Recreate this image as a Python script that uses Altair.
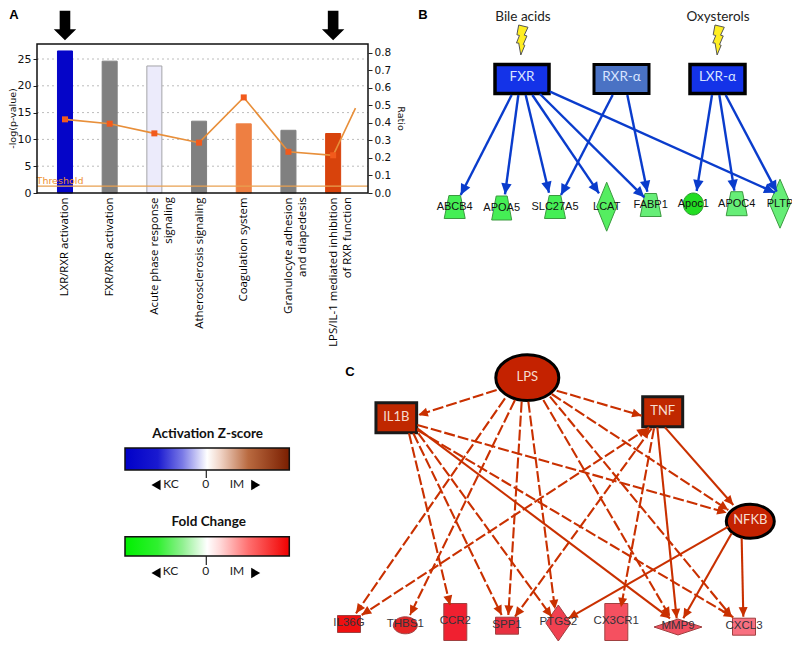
import math
import json
import altair as alt
import pandas as pd

# ---------- Panel A values ----------
pathways_line1 = ["LXR/RXR activation", "FXR/RXR activation", "Acute phase response",
                  "Atherosclerosis signaling", "Coagulation system",
                  "Granulocyte adhesion", "LPS/IL-1 mediated inhibition"]
pathways_line2 = ["", "", "signaling", "", "", "and diapedesis", "of RXR function"]
neg_log_p = [26.5, 24.6, 23.7, 13.4, 12.9, 11.7, 11.1]
ratio = [0.42, 0.395, 0.34, 0.287, 0.545, 0.235, 0.215]
ratio_tail = 0.484
threshold = 1.3
bar_fill = ["#0505c8", "#808080", "#ecebfb", "#808080", "#ee7f42", "#808080", "#d8430c"]
bar_stroke = ["#0505c8", "#808080", "#a5a5a8", "#808080", "#ee7f42", "#808080", "#d8430c"]
arrow_index = [0, 6]

# ---------- Network layout (reference layout units) ----------
# name, x, y, w, h, kind, fill, stroke, stroke width
net_b = [
    ("FXR", 522, 79, 54, 29, "rect", "#1433e8", "#000000", 3.5),
    ("RXR-α", 621.5, 79, 55, 29, "rect", "#4a72c4", "#000000", 3),
    ("LXR-α", 717.5, 79, 55, 29, "rect", "#1433e8", "#000000", 3.5),
    ("ABCB4", 454.7, 207, 21, 23, "trap", "#45ee55", "#3c9a40", 1),
    ("APOA5", 501.7, 208, 20, 24, "trap", "#45ee55", "#3c9a40", 1),
    ("SLC27A5", 555, 207, 21, 23, "trap", "#45ee55", "#3c9a40", 1),
    ("LCAT", 606.7, 206.7, 20, 49, "diamond", "#55ee60", "#3c9a40", 1),
    ("FABP1", 650.7, 205, 21, 23, "trap", "#66ee77", "#3c9a40", 1),
    ("Apoc1", 693.3, 204, 20, 22, "ellipse", "#22dd22", "#2c9a30", 1),
    ("APOC4", 736.7, 203.7, 21, 24, "trap", "#66ee77", "#3c9a40", 1),
    ("PLTP", 780, 203.7, 21, 49, "diamond", "#66ee77", "#3c9a40", 1),
]
net_c = [
    ("LPS", 527.3, 377.7, 63, 45.7, "ellipse", "#c42200", "#000000", 3),
    ("IL1B", 396.3, 417.7, 40.7, 30, "rect", "#c02800", "#1a1a1a", 3),
    ("TNF", 662.7, 411.7, 40, 30, "rect", "#c02800", "#1a1a1a", 3),
    ("NFKB", 750.3, 521.3, 48, 34, "ellipse", "#c42200", "#000000", 3),
    ("IL36G", 349, 624, 23, 17, "rect", "#f01010", "#a04040", 1),
    ("THBS1", 405.3, 625.3, 24, 17, "ellipse", "#e52525", "#a04040", 1),
    ("CCR2", 455.3, 622, 23, 37, "rect", "#f02030", "#a04040", 1),
    ("SPP1", 507, 625.7, 23, 17, "rect", "#e83040", "#a04040", 1),
    ("PTGS2", 558.3, 623, 25, 36, "diamond", "#f04050", "#a04040", 1),
    ("CX3CR1", 616.3, 622, 23, 37, "rect", "#f55060", "#a04040", 1),
    ("MMP9", 678, 627, 48, 16, "diamond", "#f05060", "#a04040", 1),
    ("CXCL3", 744, 626.7, 23, 17, "rect", "#f87080", "#a04040", 1),
]
# start x, start y, end x, end y in enlarged layout units, dashed
edges_b = [
    (335, 285, 182, 585), (355, 285, 315, 583), (377, 285, 447, 578),
    (397, 285, 597, 580), (420, 282, 733, 592), (450, 275, 1125, 578),
    (638, 285, 483, 585), (682, 285, 742, 575), (936, 285, 890, 573),
    (958, 285, 1003, 572), (977, 285, 1130, 575),
]
edges_c_dashed = [
    (500, 120, 265, 195), (680, 122, 935, 197), (525, 145, 78, 790),
    (555, 150, 240, 795), (575, 155, 535, 795), (595, 155, 675, 778),
    (640, 150, 1020, 800), (660, 140, 1205, 800), (665, 132, 1195, 480),
    (237, 250, 360, 765), (250, 250, 515, 795), (265, 250, 665, 800),
    (262, 225, 1190, 488), (262, 240, 1210, 802),
    (958, 232, 95, 795), (972, 235, 873, 772), (965, 235, 555, 800),
]
edges_c_solid = [
    (262, 235, 1020, 805), (982, 232, 1040, 805), (1005, 232, 1210, 465),
    (1195, 530, 715, 805), (1205, 550, 1060, 805), (1235, 565, 1240, 800),
]
edges_c_extra_heads = [(95, 795, 950, 235), (555, 800, 958, 235)]

agent_labels = [("Bile acids", 523, 17), ("Oxysterols", 718, 17)]
bolts = [(521.7, 40), (718, 40)]
panel_letters = [("A", 14, 15), ("B", 423, 15), ("C", 350, 372)]

legend_titles = [("Activation  Z-score", 207.7, 434), ("Fold Change", 208.7, 521.7)]
legend_bars = [(125, 289.3, 448, 470), (125, 289.3, 536.7, 556)]
legend_ticks = [(206.3, 470, 478), (206.3, 556, 565)]
legend_texts = [("KC", 171, 483.5), ("0", 205.7, 483.5), ("IM", 237, 483.5),
                ("KC", 170.5, 571), ("0", 205.7, 571), ("IM", 237, 571)]
legend_left = [(156, 485), (156, 573)]
legend_right = [(255.7, 485), (255.7, 573)]
zscore_stops = [(0, "#0000c8"), (0.2, "#1a1ad0"), (0.35, "#7a7ae6"), (0.5, "#ffffff"),
                (0.58, "#f0d4c6"), (0.75, "#b96a40"), (1, "#7a1e00")]
fold_stops = [(0, "#00f000"), (0.2, "#30f030"), (0.35, "#90f090"), (0.5, "#ffffff"),
              (0.58, "#ffd8d8"), (0.75, "#ff7070"), (1, "#f00000")]

# ---------- Scales ----------
CX = alt.Scale(domain=[8, 792], range=[0, 784], nice=False, zero=False)
CY = alt.Scale(domain=[8, 641], range=[0, 633], nice=False, zero=False)
A_XD = [-0.626, 6.78]
A_X = alt.Scale(domain=A_XD, range=[29, 360], nice=False, zero=False)
A_YD = [0, 27.8]
A_Y = alt.Scale(domain=A_YD, range=[185, 36], nice=False, zero=False)
A_R = alt.Scale(domain=[0, 0.8495], range=[185, 36], nice=False, zero=False)


def cx(f, **k):
    return alt.X(f, scale=CX, axis=None, **k)


def cy(f, **k):
    return alt.Y(f, scale=CY, axis=None, **k)


def ax(f):
    return alt.X(f, scale=A_X, axis=None)


def ay(f):
    return alt.Y(f, scale=A_Y, axis=None)


def text_layer(rows, size, color, font="Liberation Sans", weight="normal", **k):
    df = pd.DataFrame(rows, columns=["t", "x", "y"])
    return alt.Chart(df).mark_text(fontSize=size, color=color, font=font, fontWeight=weight,
                                   align="center", baseline="middle", **k).encode(
        x=cx("x:Q"), y=cy("y:Q"), text="t:N")


def node_path(kind, w, h):
    m = max(w, h)
    a, b = w / m, h / m
    if kind == "rect":
        return f"M{-a},{-b}L{a},{-b}L{a},{b}L{-a},{b}Z"
    if kind == "trap":
        return f"M{-.55*a},{-b}L{.55*a},{-b}L{a},{b}L{-a},{b}Z"
    if kind == "diamond":
        return f"M0,{-b}L{a},0L0,{b}L{-a},0Z"
    return f"M{-a},0A{a},{b} 0 1,1 {a},0A{a},{b} 0 1,1 {-a},0Z"


def nodes_layer(net):
    df = pd.DataFrame(net, columns=["name", "x", "y", "w", "h", "kind", "fill", "stroke", "sw"])
    df["path"] = [node_path(k, w, h) for k, w, h in zip(df.kind, df.w, df.h)]
    df["size"] = [max(w, h) ** 2 for w, h in zip(df.w, df.h)]
    return alt.Chart(df).mark_point(filled=True, opacity=1).encode(
        x=cx("x:Q"), y=cy("y:Q"),
        shape=alt.Shape("path:N", scale=None),
        size=alt.Size("size:Q", scale=None),
        fill=alt.Fill("fill:N", scale=None),
        stroke=alt.Stroke("stroke:N", scale=None),
        strokeWidth=alt.StrokeWidth("sw:Q", scale=None),
    )


def edge_rule(edges, ox, oy, color, width, dash=None):
    df = pd.DataFrame([(ox + a / 3, oy + b / 3, ox + c / 3, oy + d / 3) for a, b, c, d in edges],
                      columns=["x", "y", "x2", "y2"])
    kw = {"strokeDash": dash} if dash else {}
    return alt.Chart(df).mark_rule(color=color, strokeWidth=width, **kw).encode(
        x=cx("x:Q"), y=cy("y:Q"), x2="x2:Q", y2="y2:Q")


HEAD = "M0,0L0.95,2L-0.95,2Z"


def head_layer(edges, ox, oy, color, size):
    rows = []
    for a, b, c, d in edges:
        ang = math.degrees(math.atan2(c - a, -(d - b))) % 360
        rows.append((ox + c / 3, oy + d / 3, ang))
    df = pd.DataFrame(rows, columns=["x", "y", "a"])
    return alt.Chart(df).mark_point(filled=True, shape=HEAD, size=size, color=color, opacity=1,
                                    strokeWidth=0).encode(
        x=cx("x:Q"), y=cy("y:Q"), angle=alt.Angle("a:Q", scale=None))


layers = []

# ---------- Panel A ----------
idx = list(range(len(neg_log_p)))
half_bar = 0.168
dfa = pd.DataFrame(dict(i=idx, v=neg_log_p, r=ratio, fill=bar_fill, stroke=bar_stroke, l2=pathways_line2))
dfa["x0"] = dfa.i - half_bar
dfa["x1"] = dfa.i + half_bar
dfa["base"] = 0.0
frame = pd.DataFrame(dict(x=[A_XD[0]], x2=[A_XD[1]], y=[A_YD[0]], y2=[A_YD[1]]))

grid = pd.DataFrame(dict(y=[5, 10, 15, 20, 25], x=A_XD[0], x2=A_XD[1]))
layers.append(alt.Chart(grid).mark_rule(color="#bcbcbc", strokeWidth=1, strokeDash=[2, 3]).encode(
    x=ax("x:Q"), x2="x2:Q", y=ay("y:Q")))

layers.append(alt.Chart(dfa).mark_rect(strokeWidth=1).encode(
    x=ax("x0:Q"), x2="x1:Q",
    y=alt.Y("v:Q", scale=A_Y, axis=alt.Axis(
        orient="left", offset=-29, values=[0, 5, 10, 15, 20, 25], grid=False,
        labelFont="DejaVu Sans", labelFontSize=11, labelColor="#111", tickColor="#222",
        tickSize=4, domain=False, title="-log(p-value)", titleFont="DejaVu Sans",
        titleFontSize=9.5, titleFontWeight="normal", titleColor="#111", titleX=-20, titleY=110)),
    y2="base:Q",
    fill=alt.Fill("fill:N", scale=None),
    stroke=alt.Stroke("stroke:N", scale=None),
))

label_expr = "[" + ",".join(json.dumps(s) for s in pathways_line1) + "][datum.value]"
layers.append(alt.Chart(dfa).mark_text(opacity=0, text=" ").encode(
    x=alt.X("i:Q", scale=A_X, axis=alt.Axis(
        orient="bottom", offset=-448, values=idx, labelExpr=label_expr, labelAngle=270,
        labelAlign="right", labelBaseline="middle", labelFont="Open Sans", labelFontSize=11.4,
        labelColor="#000", labelPadding=4, tickSize=0, domain=False, grid=False, title=None,
        labelOverlap=False, labelLimit=300, labelBound=False, labelFlush=False)),
    y=ay("base:Q")))

dfl2 = dfa[dfa.l2 != ""]
layers.append(alt.Chart(dfl2).mark_text(
    angle=270, align="right", baseline="middle", dx=-4, dy=15, font="Open Sans", fontSize=11.4,
    color="#000").encode(x=ax("i:Q"), y=ay("base:Q"), text="l2:N"))

thr = pd.DataFrame(dict(y=[threshold], x=A_XD[0], x2=A_XD[1]))
layers.append(alt.Chart(thr).mark_rule(color="#e8a050", strokeWidth=1.2).encode(
    x=ax("x:Q"), x2="x2:Q", y=ay("y:Q")))
layers.append(text_layer([("Threshold", 60, 181)], 9.5, "#ee9030", font="DejaVu Sans"))

dfline = pd.DataFrame(dict(i=idx + [6.5], r=ratio + [ratio_tail]))
layers.append(alt.Chart(dfline).mark_line(color="#e88f3a", strokeWidth=1.6).encode(
    x=ax("i:Q"), y=alt.Y("r:Q", scale=A_R, axis=alt.Axis(
        orient="right", offset=-424, values=[i / 10 for i in range(9)], format=".1f", grid=False,
        labelFont="DejaVu Sans", labelFontSize=10.5, labelColor="#111", tickColor="#222",
        tickSize=4, domain=False, title="Ratio", titleAngle=90, titleFont="DejaVu Sans",
        titleFontSize=9.5, titleFontWeight="normal", titleColor="#111", titleX=27, titleY=110))))
layers.append(alt.Chart(dfa).mark_point(filled=True, shape="square", size=36, color="#f25a1c",
                                        opacity=1).encode(
    x=ax("i:Q"), y=alt.Y("r:Q", scale=A_R, axis=None)))
layers.append(alt.Chart(frame).mark_rect(fill=None, stroke="#111", strokeWidth=1.5).encode(
    x=ax("x:Q"), x2="x2:Q", y=ay("y:Q"), y2="y2:Q"))

ARROW = "M-0.36,-1L0.36,-1L0.36,0.25L0.76,0.25L0,1L-0.76,0.25L-0.36,0.25Z"
dfarrow = pd.DataFrame(dict(i=arrow_index, yy=[25.5, 25.5]))
layers.append(alt.Chart(dfarrow).mark_point(filled=True, shape=ARROW, size=870, color="#000",
                                            opacity=1, strokeWidth=0).encode(
    x=ax("i:Q"), y=cy("yy:Q")))

# ---------- Panel B ----------
BLUE = "#0a3ccc"
layers.append(nodes_layer(net_b))
layers.append(edge_rule(edges_b, 400, 0, BLUE, 2.4))
layers.append(head_layer(edges_b, 400, 0, BLUE, 120))
layers.append(text_layer([(r[0], r[1], r[2] - 2) for r in net_b[:3]], 13.5, "#d8e4ff", font="Lato"))
layers.append(text_layer([(r[0], r[1], r[2]) for r in net_b[3:]], 11, "#111"))
layers.append(text_layer(agent_labels, 13.5, "#222", font="Lato"))
BOLT = ("M-0.2,-1L0.42,-0.85L0.17,-0.32L0.35,-0.27L0.1,0.31L0.21,0.35L-0.06,1L-0.2,0.2"
        "L-0.35,0.2L-0.15,-0.3L-0.32,-0.35Z")
layers.append(alt.Chart(pd.DataFrame(bolts, columns=["x", "y"])).mark_point(
    filled=True, shape=BOLT, size=900, fill="#ffee22", stroke="#555", strokeWidth=1, opacity=1
).encode(x=cx("x:Q"), y=cy("y:Q")))

# ---------- Panel C ----------
RED = "#c93000"
all_c = edges_c_dashed + edges_c_solid + edges_c_extra_heads
layers.append(nodes_layer(net_c))
layers.append(edge_rule(edges_c_dashed, 330, 350, RED, 2.1, dash=[11, 3]))
layers.append(edge_rule(edges_c_solid, 330, 350, RED, 2.1))
layers.append(head_layer(all_c, 330, 350, RED, 90))
layers.append(text_layer([(r[0], r[1], r[2] - 1) for r in net_c[:4]], 13, "#f6dcd0", font="Lato"))
layers.append(text_layer([(r[0], r[1], r[2] - 1) for r in net_c[4:]], 11.5, "#33333a"))

# ---------- Legends ----------
for (x0, x1, y0, y1), stops in zip(legend_bars, [zscore_stops, fold_stops]):
    df = pd.DataFrame(dict(x=[x0], x2=[x1], y=[y0], y2=[y1]))
    layers.append(alt.Chart(df).mark_rect(
        fill=alt.Gradient(gradient="linear", x1=0, x2=1, y1=0, y2=0,
                          stops=[alt.GradientStop(offset=o, color=c) for o, c in stops]),
        stroke="#111", strokeWidth=1.5).encode(
        x=cx("x:Q"), x2="x2:Q", y=cy("y:Q"), y2="y2:Q"))
dft = pd.DataFrame(legend_ticks, columns=["x", "y", "y2"])
layers.append(alt.Chart(dft).mark_rule(color="#222", strokeWidth=1.2).encode(
    x=cx("x:Q"), y=cy("y:Q"), y2="y2:Q"))
layers.append(text_layer(legend_titles, 13.5, "#111", font="Lato", weight="bold"))
layers.append(text_layer(legend_texts, 12, "#222", font="Lato"))
for pts, shp in [(legend_left, "triangle-left"), (legend_right, "triangle-right")]:
    layers.append(alt.Chart(pd.DataFrame(pts, columns=["x", "y"])).mark_point(
        filled=True, shape=shp, size=110, color="#000", opacity=1).encode(
        x=cx("x:Q"), y=cy("y:Q")))

layers.append(text_layer(panel_letters, 13, "#000", weight="bold"))

chart = alt.layer(*layers).resolve_scale(x="independent", y="independent").properties(
    width=784, height=633, autosize=alt.AutoSizeParams(type="none"), padding=0,
    background="white").configure_view(stroke=None)

chart.save("out.html", embed_options={"renderer": "svg", "actions": False})
